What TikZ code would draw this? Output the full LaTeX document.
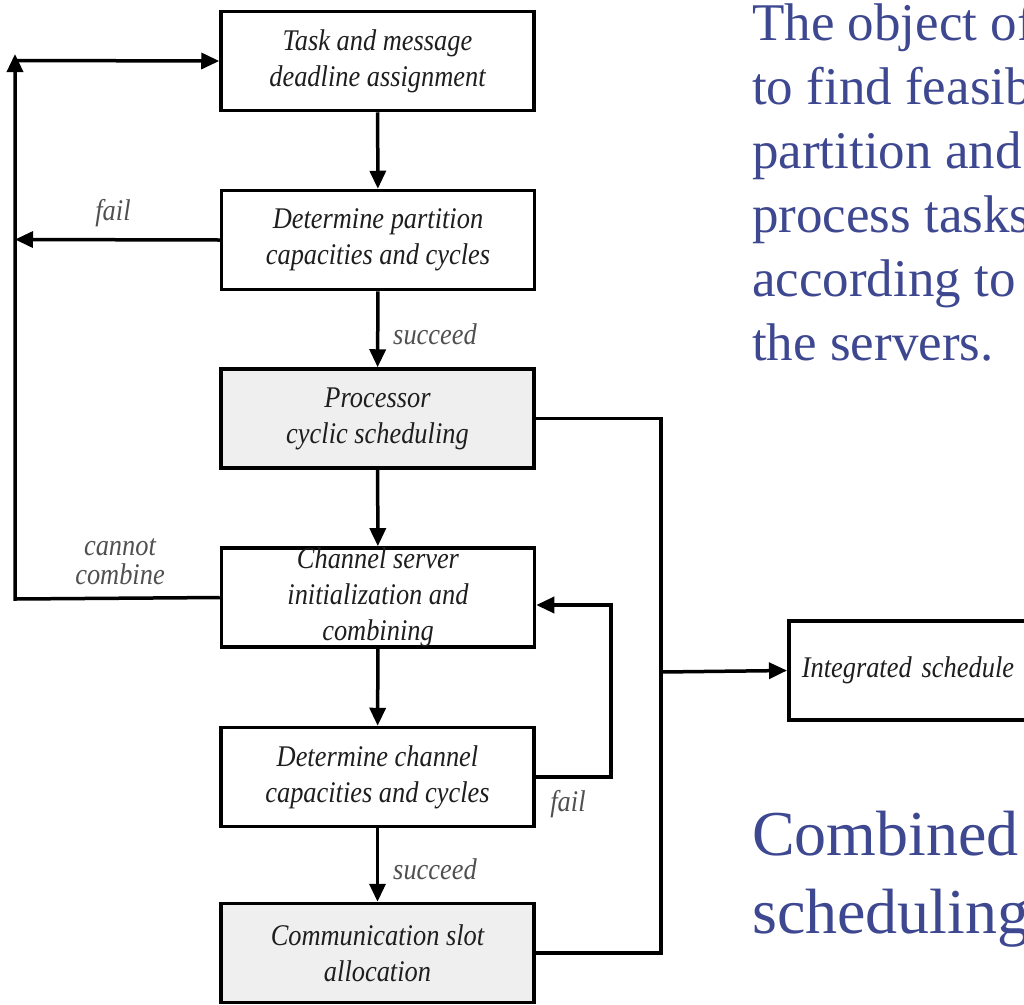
\documentclass[tikz,border=0pt]{standalone}
\usepackage{fontspec}
\setmainfont{Liberation Serif}
\newfontfamily\boxfont[FakeStretch=0.88]{Liberation Serif}
\usetikzlibrary{arrows.meta}
\definecolor{slideblue}{RGB}{62,72,145}
\definecolor{boxgray}{RGB}{239,239,239}
\definecolor{txtc}{RGB}{30,30,30}
\definecolor{lblc}{RGB}{80,80,80}
\begin{document}
\begin{tikzpicture}[x=1pt,y=-1pt,
  stage/.style={draw=black, line width=3.5pt, minimum width=313pt, minimum height=99pt,
    inner sep=0pt, align=center, text=txtc,
    font=\boxfont\itshape\fontsize{30}{36}\selectfont},
  shaded/.style={stage, fill=boxgray},
  lab/.style={inner sep=0pt, align=center, text=lblc,
    font=\boxfont\itshape\fontsize{30}{29}\selectfont},
  conn/.style={line width=3.5pt},
  arr/.style={line width=3.5pt, -{Triangle[length=18pt,width=16pt]}},
  bigtext/.style={inner sep=0pt, anchor=base west, text=slideblue,
    font=\fontsize{53}{64}\selectfont},
  hugetext/.style={inner sep=0pt, anchor=base west, text=slideblue,
    font=\fontsize{64}{78}\selectfont}]
\useasboundingbox (0,0) rectangle (1024,1004);
\clip (0,0) rectangle (1024,1004);
\fill[white] (0,0) rectangle (1024,1004);

% stages
\node[stage]  (b1) at (377.5,61)  {Task and message\\deadline assignment};
\node[stage]  (b2) at (378,240)   {Determine partition\\capacities and cycles};
\node[shaded] (b3) at (377.5,418.5) {Processor\\cyclic scheduling};
\node[stage]  (b4) at (378,597.5)     {Channel server\\initialization and\\combining};
\node[stage]  (b5) at (377.5,777) {Determine channel\\capacities and cycles};
\node[shaded] (b6) at (377.5,953)   {Communication slot\\allocation};
\node[stage, anchor=west, minimum width=300pt, text width=274pt, align=left, inner xsep=13pt]
  (b7) at (787,670.5) {\rule{0pt}{20pt}Integrated schedule};

% coordinates
\coordinate (Lfail) at (15,239.5);
\coordinate (Ltop) at (15,54);
\coordinate (Lcorner) at (15,60.5);
\coordinate (Lbot) at (15,599);
\coordinate (R1) at (661,418.5);
\coordinate (R2) at (661,953);
\coordinate (Rj) at (661,672);
\coordinate (F1) at (611,605);

% vertical flow
\draw[arr] (b1) -- (b2);
\draw[arr] (b2) -- (b3);
\draw[arr] (b3) -- (b4);
\draw[arr] (b4) -- (b5);
\draw[arr] (b5) -- (b6);

% left feedback
\draw[arr] (b2.west) -- (Lfail);
\draw[arr] (b4.west) -- (Lbot) -- (Ltop);
\draw[arr] (Lcorner) -- (b1.west);

% right collection
\draw[conn] (b3.east) -- (R1) -- (R2) -- (b6.east);
\draw[arr] (Rj) -- (b7.west);

% channel fail loop
\draw[arr] (b5.east) -| (F1) -- (F1 -| b4.east);

% labels
\node[lab] (lf1) at (113,213) {fail};
\node[lab] (ls1) at (435,334) {succeed};
\node[lab] (lcc) at (120,562) {cannot\\combine};
\node[lab] (lf2) at (568,804) {fail};
\node[lab] (ls2) at (435,869) {succeed};

% slide text
\node[bigtext] (t1) at (752,40)  {The object of};
\node[bigtext] (t2) at (752,104) {to find feasib};
\node[bigtext] (t3) at (752,168) {partition and};
\node[bigtext] (t4) at (752,232) {process tasks};
\node[bigtext] (t5) at (752,296) {according to};
\node[bigtext] (t6) at (752,360) {the servers.};
\node[hugetext] (c1) at (752,855) {Combined};
\node[hugetext] (c2) at (752,933) {scheduling};
\end{tikzpicture}
\end{document}
